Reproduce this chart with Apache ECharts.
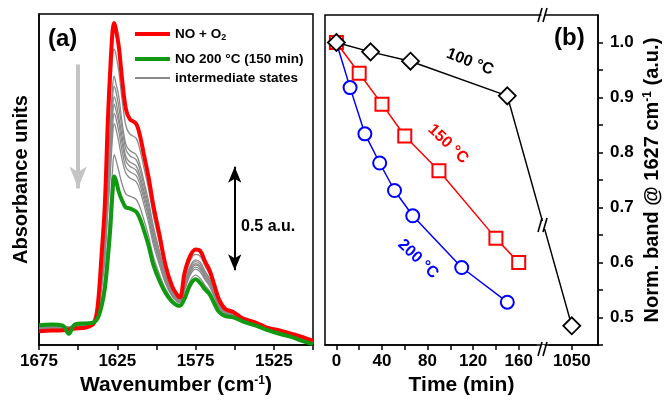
<!DOCTYPE html>
<html><head><meta charset="utf-8">
<script src="https://cdn.jsdelivr.net/npm/echarts@6/dist/echarts.min.js"></script>
<style>html,body{margin:0;padding:0;background:#fff}#c{width:664px;height:401px}</style>
</head><body><div id="c"></div>
<script>
// ---------- Panel (a): spectra ----------
const wavenumbers = [1675,1667,1660,1656,1652,1645,1640,1637.5,1635,1633,1631,1629.5,1628,1627,1626,1624,1622,1619.5,1617,1613,1610.5,1608,1605,1602,1598,1594,1590,1587,1585,1582,1578.5,1575,1572,1569,1566,1563,1560,1556,1551,1545,1537,1530,1522,1514,1507,1500];
const specNOO2 = [0.067,0.070,0.072,0.075,0.080,0.085,0.105,0.19,0.44,0.67,1.09,1.33,1.52,1.557,1.53,1.44,1.29,1.14,1.092,1.07,1.012,0.92,0.81,0.677,0.53,0.38,0.285,0.245,0.23,0.35,0.43,0.462,0.455,0.405,0.36,0.29,0.22,0.175,0.16,0.13,0.11,0.086,0.072,0.055,0.04,0.02];
const specNO200 = [0.096,0.100,0.095,0.055,0.100,0.105,0.110,0.13,0.19,0.27,0.42,0.56,0.74,0.815,0.80,0.74,0.70,0.665,0.661,0.645,0.61,0.555,0.48,0.389,0.31,0.25,0.21,0.193,0.19,0.225,0.29,0.318,0.30,0.27,0.245,0.20,0.16,0.14,0.134,0.115,0.095,0.075,0.056,0.04,0.02,0.005];
const inter1 = [0.072,0.075,0.076,0.078,0.083,0.088,0.106,0.18,0.40,0.60,0.98,1.20,1.39,1.43,1.41,1.32,1.19,1.06,1.02,1.00,0.944,0.858,0.754,0.628,0.493,0.358,0.272,0.236,0.223,0.32,0.406,0.438,0.429,0.382,0.34,0.275,0.21,0.169,0.156,0.127,0.107,0.084,0.069,0.052,0.037,0.017];
const inter2 = [0.077,0.081,0.080,0.080,0.087,0.092,0.107,0.17,0.35,0.53,0.86,1.06,1.25,1.30,1.27,1.20,1.08,0.97,0.94,0.921,0.871,0.792,0.695,0.576,0.453,0.335,0.259,0.227,0.216,0.30,0.381,0.412,0.401,0.358,0.32,0.259,0.199,0.163,0.151,0.125,0.105,0.082,0.066,0.05,0.033,0.015];
const inter3 = [0.079,0.082,0.081,0.081,0.088,0.093,0.107,0.165,0.34,0.51,0.82,1.01,1.20,1.25,1.23,1.15,1.05,0.945,0.915,0.896,0.847,0.77,0.675,0.559,0.44,0.327,0.254,0.224,0.214,0.293,0.373,0.403,0.391,0.35,0.313,0.253,0.195,0.161,0.149,0.124,0.104,0.081,0.065,0.049,0.032,0.014];
const inter4 = [0.081,0.084,0.083,0.082,0.090,0.095,0.107,0.16,0.32,0.48,0.77,0.96,1.15,1.20,1.18,1.10,1.01,0.91,0.885,0.866,0.819,0.745,0.652,0.539,0.424,0.318,0.249,0.22,0.211,0.285,0.363,0.393,0.381,0.34,0.305,0.247,0.191,0.158,0.148,0.123,0.103,0.081,0.064,0.048,0.03,0.013];
const inter5 = [0.082,0.086,0.084,0.083,0.091,0.096,0.108,0.16,0.31,0.46,0.73,0.92,1.11,1.164,1.14,1.07,0.98,0.89,0.864,0.845,0.799,0.727,0.635,0.524,0.413,0.311,0.245,0.217,0.209,0.279,0.356,0.386,0.373,0.333,0.299,0.242,0.188,0.156,0.146,0.122,0.102,0.08,0.064,0.047,0.029,0.012];
const inter6 = [0.084,0.088,0.086,0.084,0.092,0.097,0.108,0.155,0.29,0.43,0.69,0.88,1.06,1.12,1.10,1.03,0.94,0.86,0.838,0.82,0.775,0.705,0.615,0.507,0.40,0.303,0.241,0.214,0.206,0.272,0.347,0.377,0.364,0.325,0.292,0.237,0.185,0.154,0.145,0.121,0.101,0.08,0.063,0.046,0.028,0.011];
const inter7 = [0.086,0.090,0.087,0.085,0.093,0.098,0.108,0.15,0.275,0.41,0.65,0.82,1.01,1.07,1.05,0.98,0.90,0.83,0.808,0.79,0.747,0.679,0.592,0.487,0.385,0.294,0.236,0.211,0.204,0.264,0.338,0.367,0.353,0.316,0.284,0.231,0.18,0.152,0.143,0.12,0.10,0.079,0.061,0.045,0.027,0.01];
const inter8 = [0.092,0.096,0.092,0.088,0.097,0.102,0.109,0.14,0.225,0.33,0.51,0.67,0.85,0.92,0.90,0.84,0.78,0.73,0.72,0.705,0.666,0.606,0.526,0.429,0.341,0.268,0.22,0.20,0.196,0.241,0.31,0.338,0.322,0.289,0.261,0.213,0.168,0.145,0.138,0.117,0.097,0.077,0.058,0.042,0.023,0.007];
const intermediates = [inter1,inter2,inter3,inter4,inter5,inter6,inter7,inter8];
const wavenumberLabels = [1675,1625,1575,1525];

// ---------- Panel (b): normalized band vs time ----------
const time100 = [0,30,65,150,1050];
const norm100 = [1.0,0.983,0.966,0.903,0.485];
const time150 = [0,20,40,60,90,140,160];
const norm150 = [1.0,0.944,0.888,0.830,0.767,0.644,0.600];
const time200 = [0,12,25,38,51,67,110,150];
const norm200 = [1.0,0.918,0.834,0.781,0.731,0.685,0.591,0.528];
const timeLabels = [0,40,80,120,160,1050];
const timeTicks = [0,20,40,60,80,100,120,140,160,1050];
const normLabels = [0.5,0.6,0.7,0.8,0.9,1.0];
const normTicks = [0.45,0.5,0.55,0.6,0.65,0.7,0.75,0.8,0.85,0.9,0.95,1.0];

const FONT = '"Liberation Sans", Arial, sans-serif';
const pair = (xs, ys) => xs.map((x, i) => [x, ys[i]]);

const chart = echarts.init(document.getElementById('c'));
const series = [];
intermediates.forEach(arr => series.push({
  name: 'intermediate states', type: 'line', xAxisIndex: 0, yAxisIndex: 0,
  data: pair(wavenumbers, arr), symbol: 'none', smooth: 0.35,
  lineStyle: { color: '#8a8a8a', width: 1.3 }, itemStyle: { color: '#8a8a8a' }, z: 2
}));
series.push({
  name: 'NO + O2', type: 'line', xAxisIndex: 0, yAxisIndex: 0,
  data: pair(wavenumbers, specNOO2), symbol: 'none', smooth: 0.35,
  lineStyle: { color: '#ff0000', width: 4 }, itemStyle: { color: '#ff0000' }, z: 3,
  markLine: {
    silent: true, animation: false, label: { show: false },
    symbol: ['none', 'arrow'],
    data: [
      [{ coord: [1550, 0.362], symbol: 'arrow', symbolSize: [10, 16] },
       { coord: [1550, 0.862], symbol: 'arrow', symbolSize: [10, 16], lineStyle: { color: '#000', width: 2, type: 'solid' } }],
      [{ coord: [1650, 1.356], symbol: 'none' },
       { coord: [1650, 0.757], symbol: 'arrow', symbolSize: [13, 22], lineStyle: { color: '#c4c4c4', width: 4, type: 'solid' } }]
    ]
  }
});
series.push({
  name: 'NO 200 °C (150 min)', type: 'line', xAxisIndex: 0, yAxisIndex: 0,
  data: pair(wavenumbers, specNO200), symbol: 'none', smooth: 0.35,
  lineStyle: { color: '#129912', width: 4 }, itemStyle: { color: '#129912' }, z: 4
});
series.push({
  name: '200', type: 'line', xAxisIndex: 1, yAxisIndex: 1, data: pair(time200, norm200),
  symbol: 'circle', symbolSize: 13, lineStyle: { color: '#0000ff', width: 1.5 },
  itemStyle: { color: '#fff', borderColor: '#0000ff', borderWidth: 2 }, z: 5
});
series.push({
  name: '150', type: 'line', xAxisIndex: 1, yAxisIndex: 1, data: pair(time150, norm150),
  symbol: 'rect', symbolSize: 13, lineStyle: { color: '#ff0000', width: 1.5 },
  itemStyle: { color: '#fff', borderColor: '#ff0000', borderWidth: 2 }, z: 6
});
series.push({
  name: '100', type: 'line', xAxisIndex: 1, yAxisIndex: 1, data: pair(time100, norm100),
  symbol: 'diamond', symbolSize: 17, lineStyle: { color: '#000', width: 1.5 },
  itemStyle: { color: '#fff', borderColor: '#000', borderWidth: 1.8 }, z: 7
});

const axisLine = { show: true, onZero: false, lineStyle: { color: '#000', width: 1.5 } };
const labelStyle = { color: '#000', fontFamily: FONT, fontWeight: 'bold', fontSize: 17 };
const nameStyle = { color: '#000', fontFamily: FONT, fontWeight: 'bold', fontSize: 21,
  rich: { sup: { fontFamily: FONT, fontWeight: 'bold', fontSize: 12, verticalAlign: 'top', padding: [0, 0, 8, 0] } } };
const brk = [{ start: 175, end: 1030, gap: 11.6 }];

function breakMark(x, y, cut) {
  return { type: 'group', x: x, y: y, z: 100, children: [
    { type: 'rect', shape: { x: -cut / 2, y: -4, width: cut, height: 8 }, style: { fill: '#fff' }, z: 100 },
    { type: 'line', shape: { x1: -5, y1: 7, x2: -1, y2: -7 }, style: { stroke: '#000', lineWidth: 1.6 }, z: 101 },
    { type: 'line', shape: { x1: 0, y1: 7, x2: 4, y2: -7 }, style: { stroke: '#000', lineWidth: 1.6 }, z: 101 }
  ]};
}
const legendText = { color: '#000', fontFamily: FONT, fontWeight: 'bold', fontSize: 13.5,
  rich: { sub: { fontFamily: FONT, fontWeight: 'bold', fontSize: 9, padding: [8, 0, 0, 0] } } };
const legendBase = { left: 135, padding: 0, itemWidth: 35, itemGap: 0, selectedMode: false, icon: 'rect', textStyle: legendText };

chart.setOption({
  animation: false,
  backgroundColor: '#fff',
  grid: [
    { left: 39, top: 14, width: 274, height: 334, show: true, borderColor: '#000', borderWidth: 1.5 },
    { left: 325, top: 15, width: 273, height: 334, show: true, borderColor: '#000', borderWidth: 1.5 }
  ],
  legend: [
    { ...legendBase, data: ['NO + O2'], top: 27, itemHeight: 4, formatter: n => 'NO + O{sub|2}' },
    { ...legendBase, data: ['NO 200 °C (150 min)'], top: 52, itemHeight: 4 },
    { ...legendBase, data: ['intermediate states'], top: 71, itemHeight: 2 }
  ],
  xAxis: [
    { gridIndex: 0, type: 'value', inverse: true, min: 1500, max: 1675, interval: 25,
      axisLine: axisLine, splitLine: { show: false },
      axisTick: { show: true, inside: false, length: 5, lineStyle: { color: '#000', width: 1.5 } },
      axisLabel: { ...labelStyle, margin: 8, formatter: v => (wavenumberLabels.includes(v) ? String(v) : '') },
      name: 'Wavenumber (cm{sup|-1})', nameLocation: 'middle', nameGap: 29, nameTextStyle: nameStyle },
    { gridIndex: 1, type: 'value', min: -10, max: 1073, breaks: brk,
      breakArea: { show: false },
      axisLine: axisLine, splitLine: { show: false },
      axisTick: { show: true, length: 5, customValues: timeTicks, lineStyle: { color: '#000', width: 1.5 } },
      axisLabel: { ...labelStyle, margin: 8, customValues: timeLabels, formatter: v => String(v) },
      name: 'Time (min)', nameLocation: 'middle', nameGap: 29, nameTextStyle: nameStyle }
  ],
  yAxis: [
    { gridIndex: 0, type: 'value', min: 0, max: 1.6, axisLine: axisLine, axisTick: { show: false },
      axisLabel: { show: false }, splitLine: { show: false },
      name: 'Absorbance units', nameLocation: 'middle', nameGap: 8,
      nameTextStyle: { color: '#000', fontFamily: FONT, fontWeight: 'bold', fontSize: 20 } },
    { gridIndex: 1, type: 'value', position: 'right', min: 0.45, max: 1.05,
      axisLine: axisLine, splitLine: { show: false },
      axisTick: { show: true, length: 5, customValues: normTicks, lineStyle: { color: '#000', width: 1.5 } },
      axisLabel: { ...labelStyle, margin: 12, customValues: normLabels, formatter: v => v.toFixed(1) },
      name: 'Norm. band @ 1627 cm{sup|-1} (a.u.)', nameLocation: 'middle', nameGap: 44, nameRotate: 90,
      nameTextStyle: { ...nameStyle, fontSize: 20 } }
  ],
  graphic: [
    { type: 'text', left: 48, top: 27, z: 100, style: { text: '(a)', font: 'bold 24px ' + FONT, fill: '#000' } },
    { type: 'text', left: 554, top: 26, z: 100, style: { text: '(b)', font: 'bold 24px ' + FONT, fill: '#000' } },
    { type: 'text', left: 241, top: 219, z: 100, style: { text: '0.5 a.u.', font: 'bold 16px ' + FONT, fill: '#000' } },
    { type: 'text', x: 470, y: 62, rotation: -0.37, z: 100,
      style: { text: '100 °C', font: 'bold 16px ' + FONT, fill: '#000', align: 'center', verticalAlign: 'middle' } },
    { type: 'text', x: 448, y: 144, rotation: -0.76, z: 100,
      style: { text: '150 °C', font: 'bold 16px ' + FONT, fill: '#ff0000', align: 'center', verticalAlign: 'middle' } },
    { type: 'text', x: 418, y: 259, rotation: -0.76, z: 100,
      style: { text: '200 °C', font: 'bold 16px ' + FONT, fill: '#0000ff', align: 'center', verticalAlign: 'middle' } },
    breakMark(543, 15, 3),
    breakMark(543, 349, 3),
    breakMark(543, 225, 8)
  ],
  series: series
});
</script></body></html>
